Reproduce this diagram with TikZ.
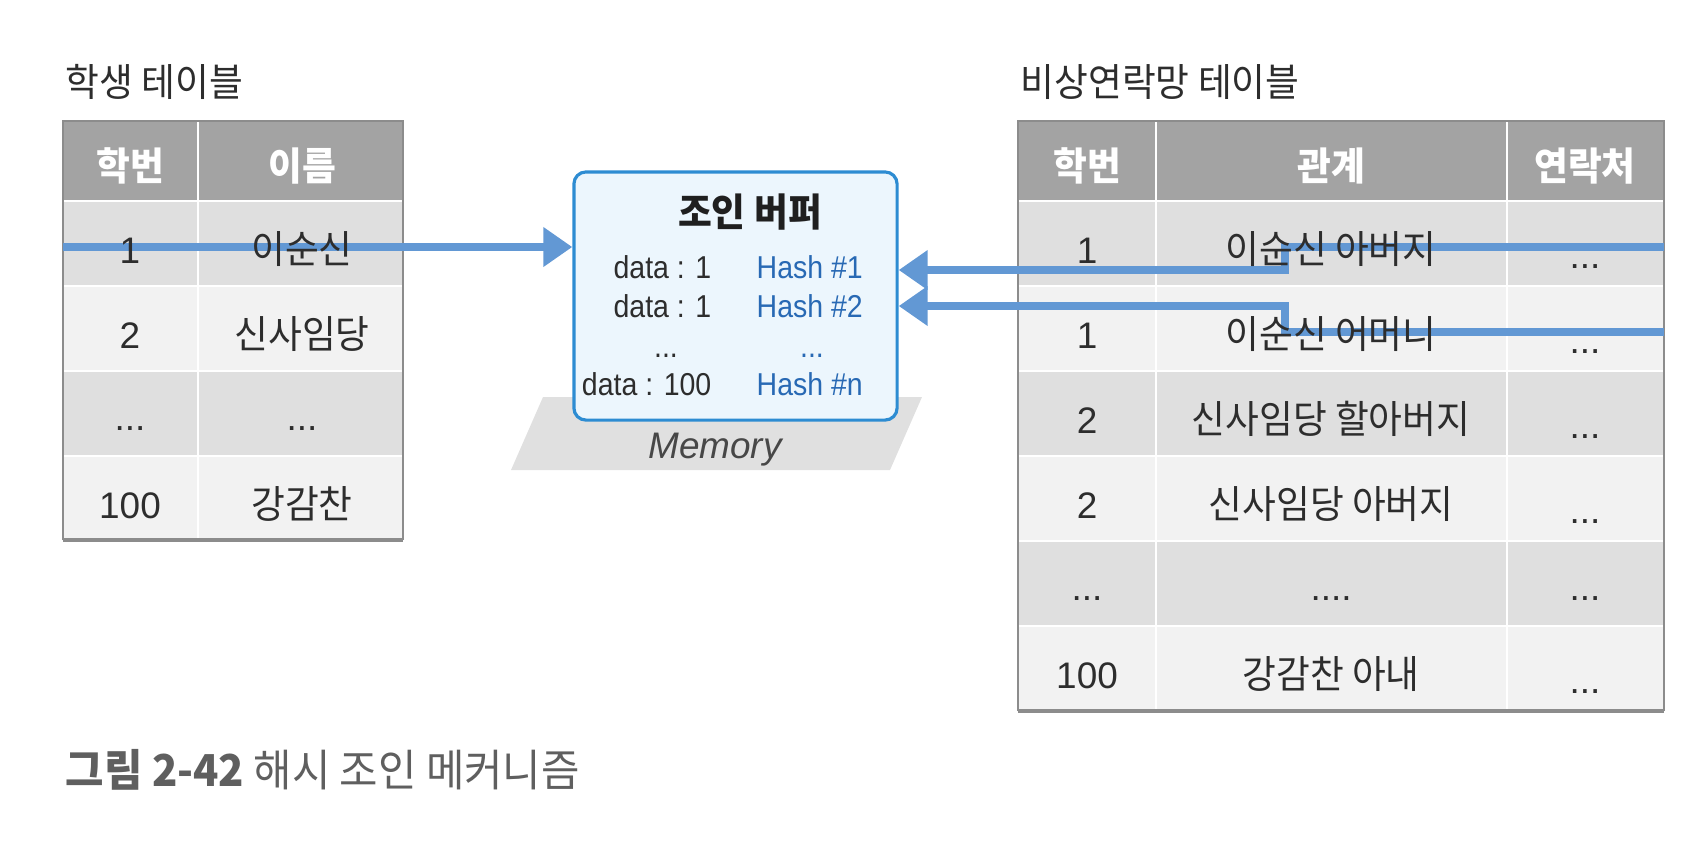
\documentclass[tikz,border=0pt]{standalone}
\usepackage{fontspec}
\setmainfont{Liberation Sans}
\newfontfamily\kr[FakeStretch=0.95]{Noto Sans CJK KR}
\newfontfamily\cond[FakeStretch=0.9]{Liberation Sans}
\usetikzlibrary{arrows.meta}
\definecolor{headgray}{RGB}{163,163,163}
\definecolor{rowgray}{RGB}{223,223,223}
\definecolor{rowlight}{RGB}{242,242,242}
\definecolor{tableline}{RGB}{140,140,140}
\definecolor{flowblue}{RGB}{98,152,212}
\definecolor{bufline}{RGB}{45,140,210}
\definecolor{buffill}{RGB}{236,246,253}
\definecolor{hashblue}{RGB}{40,105,180}
\definecolor{memgray}{RGB}{224,224,224}
\definecolor{textgray}{RGB}{45,45,45}
\definecolor{capgray}{RGB}{95,95,95}
\begin{document}
\begin{tikzpicture}[x=0.01cm, y=-0.01cm,
    title/.style={anchor=base west, inner sep=0, text=textgray, font=\kr\fontsize{11}{13}\selectfont},
    head/.style={anchor=base, inner sep=0, text=white, font=\kr\fontsize{11}{13}\selectfont\bfseries},
    cell/.style={anchor=base, inner sep=0, text=textgray, font=\fontsize{10.5}{12}\selectfont},
    krcell/.style={cell, font=\kr\fontsize{11}{13}\selectfont},
    sep/.style={draw=white, line width=0.6pt},
    frame/.style={draw=tableline, line width=0.5pt},
    buffer/.style={draw=bufline, line width=0.9pt, fill=buffill, rounded corners=0.12cm,
        minimum width=3.23cm, minimum height=2.48cm, inner sep=0},
    data/.style={inner sep=0, text=textgray, font=\cond\fontsize{9}{10}\selectfont},
    hash/.style={data, anchor=base west, text=hashblue},
    flow/.style={draw=flowblue, line width=0.08cm, line join=miter,
        -{Triangle[width=0.38cm,length=0.29cm]}}]
\useasboundingbox (0,0) rectangle (1698,866);
% titles
\node[title] (stitle) at (65,96) {학생 테이블};
\node[title] (etitle) at (1020,96) {비상연락망 테이블};
% student table
\fill[headgray] (63,121) rectangle (403,201);
\fill[rowgray] (63,201) rectangle (403,286);
\fill[rowlight] (63,286) rectangle (403,371);
\fill[rowgray] (63,371) rectangle (403,456);
\fill[rowlight] (63,456) rectangle (403,540);
\draw[sep] (63,201) -- (403,201);
\draw[sep] (63,286) -- (403,286);
\draw[sep] (63,371) -- (403,371);
\draw[sep] (63,456) -- (403,456);
\draw[sep] (198,122) -- (198,540);
\draw[frame] (63,540) -- (63,121) -- (403,121) -- (403,540);
\draw[frame, line width=1pt] (63,540) -- (403,540);
% contact table
\fill[headgray] (1018,121) rectangle (1664,201);
\fill[rowgray] (1018,201) rectangle (1664,286);
\fill[rowlight] (1018,286) rectangle (1664,371);
\fill[rowgray] (1018,371) rectangle (1664,456);
\fill[rowlight] (1018,456) rectangle (1664,541);
\fill[rowgray] (1018,541) rectangle (1664,626);
\fill[rowlight] (1018,626) rectangle (1664,711);
\draw[sep] (1018,201) -- (1664,201);
\draw[sep] (1018,286) -- (1664,286);
\draw[sep] (1018,371) -- (1664,371);
\draw[sep] (1018,456) -- (1664,456);
\draw[sep] (1018,541) -- (1664,541);
\draw[sep] (1018,626) -- (1664,626);
\draw[sep] (1156,122) -- (1156,711);
\draw[sep] (1507,122) -- (1507,711);
\draw[frame] (1018,711) -- (1018,121) -- (1664,121) -- (1664,711);
\draw[frame, line width=1pt] (1018,711) -- (1664,711);
% memory and join buffer
\fill[memgray] (543,397) -- (922,397) -- (890,470) -- (511,470) -- cycle;
\node[inner sep=0, text=black!72, font=\fontsize{10.5}{12}\selectfont\itshape] (mem) at (715,450) {Memory};
\node[buffer] (buffer) at (735.5,296) {};
\node[anchor=base, inner sep=0, text=black!88, font=\kr\fontsize{11}{13}\selectfont\bfseries] (buftitle) at (750,226) {조인 버퍼};
\node[data, anchor=base east] (d1) at (712,278) {data : 1};
\node[data, anchor=base east] (d2) at (712,317) {data : 1};
\node[data, anchor=base] (d3) at (666,357) {...};
\node[data, anchor=base east] (d4) at (712,395) {data : 100};
\node[hash] (h1) at (756,278) {Hash \#1};
\node[hash] (h2) at (756,317) {Hash \#2};
\node[hash, anchor=base] (h3) at (812,357) {...};
\node[hash] (h4) at (756,395) {Hash \#n};
% flows
\coordinate (s1) at (63,247);
\coordinate (e1) at (1664,247);
\coordinate (e1turn) at (1285,270);
\coordinate (e2) at (1664,332);
\coordinate (e2turn) at (1285,306);
\draw[flow] (s1) -- (s1 -| buffer.west);
\draw[flow] (e1) -| (e1turn) -- (e1turn -| buffer.east);
\draw[flow] (e2) -| (e2turn) -- (e2turn -| buffer.east);
% student table text
\node[head] (sh1) at (130,180) {학번};
\node[head] (sh2) at (302,180) {이름};
\node[cell] (s11) at (130,263) {1};
\node[krcell] (s12) at (302,263) {이순신};
\node[cell] (s21) at (130,348) {2};
\node[krcell] (s22) at (302,348) {신사임당};
\node[cell] (s31) at (130,430) {...};
\node[cell] (s32) at (302,430) {...};
\node[cell] (s41) at (130,518) {100};
\node[krcell] (s42) at (302,518) {강감찬};
% contact table text
\node[head] (eh1) at (1087,180) {학번};
\node[head] (eh2) at (1331,180) {관계};
\node[head] (eh3) at (1585,180) {연락처};
\node[cell] (e11) at (1087,263) {1};
\node[krcell] (e12) at (1331,263) {이순신 아버지};
\node[cell] (e13) at (1585,268) {...};
\node[cell] (e21) at (1087,348) {1};
\node[krcell] (e22) at (1331,348) {이순신 어머니};
\node[cell] (e23) at (1585,353) {...};
\node[cell] (e31) at (1087,433) {2};
\node[krcell] (e32) at (1331,433) {신사임당 할아버지};
\node[cell] (e33) at (1585,438) {...};
\node[cell] (e41) at (1087,518) {2};
\node[krcell] (e42) at (1331,518) {신사임당 아버지};
\node[cell] (e43) at (1585,523) {...};
\node[cell] (e51) at (1087,600) {...};
\node[cell] (e52) at (1331,600) {....};
\node[cell] (e53) at (1585,600) {...};
\node[cell] (e61) at (1087,688) {100};
\node[krcell] (e62) at (1331,688) {강감찬 아내};
\node[cell] (e63) at (1585,693) {...};
% caption
\node[anchor=base west, inner sep=0, text=capgray, font=\kr\fontsize{12.5}{14}\selectfont] (caption) at (65,786) {\textbf{그림 2-42} 해시 조인 메커니즘};
\end{tikzpicture}
\end{document}
